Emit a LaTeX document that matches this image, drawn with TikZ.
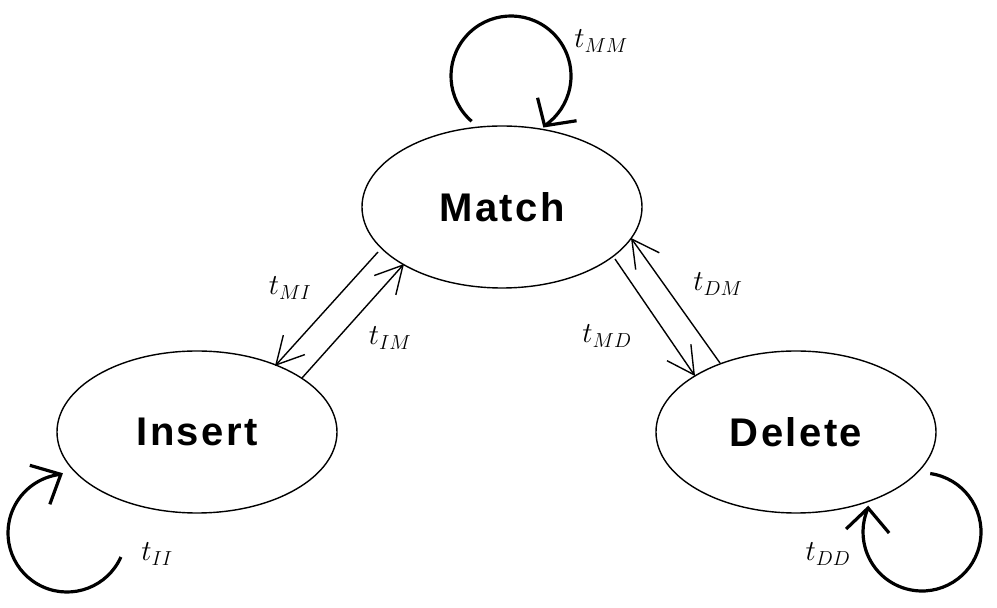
\RequirePackage{fix-cm}
\documentclass[tikz,border=0pt]{standalone}
\usepackage{fontspec}
\newfontfamily\statefont[LetterSpace=6]{Liberation Sans}
\usetikzlibrary{shapes.geometric,arrows.meta}
\begin{document}
\begin{tikzpicture}[x=1pt,y=1pt,
  state/.style={ellipse,draw,line width=1.4pt,minimum width=280pt,minimum height=162pt,inner sep=0pt,
    font=\statefont\bfseries\fontsize{40}{44}\selectfont},
  trans/.style={line width=1.4pt,-{Straight Barb[length=27pt,width=29pt,line width=1.4pt]}},
  selfloop/.style={line width=3.2pt,line cap=butt},
  barb/.style={line width=3.2pt,line join=miter,line cap=butt},
  lab/.style={font=\fontsize{29}{31}\selectfont,inner sep=0pt}]
\useasboundingbox (0,0) rectangle (997,608);
\node[state] (M) at (502,401) {Match};
\node[state] (I) at (197,176) {Insert};
\node[state] (D) at (796,176) {Delete};
% straight transitions
\coordinate (mi1) at (378,356); \coordinate (mi2) at (275,242);
\coordinate (im1) at (302,230); \coordinate (im2) at (404,344);
\coordinate (md1) at (615,349); \coordinate (md2) at (695,232);
\coordinate (dm1) at (720,245); \coordinate (dm2) at (631,370);
\draw[trans] (mi1) -- (mi2);
\draw[trans] (im1) -- (im2);
\draw[trans] (md1) -- (md2);
\draw[trans] (dm1) -- (dm2);
% self loops
\coordinate (mmc) at (511,532);
\coordinate (iic) at (67,75);
\coordinate (ddc) at (922,76);
\draw[selfloop] (mmc) ++(229:60) arc[start angle=229,end angle=-56,radius=60] coordinate (mmend);
\draw[selfloop] (iic) ++(-24:59) arc[start angle=-24,end angle=-264,radius=59] coordinate (iiend);
\draw[selfloop] (ddc) ++(82:59) arc[start angle=82,end angle=-204,radius=59] coordinate (ddend);
\draw[barb] (mmend) ++(-7,28) coordinate (mmb1) -- (mmend) -- ++(32,5) coordinate (mmb2);
\draw[barb] (iiend) ++(-31,9) coordinate (iib1) -- (iiend) -- ++(-11,-30) coordinate (iib2);
\draw[barb] (ddend) ++(-22,-21) coordinate (ddb1) -- (ddend) -- ++(21,-25) coordinate (ddb2);
% labels
\node[lab] (lmm) at (601,567) {$t_{MM}$};
\node[lab] (lmi) at (290,320) {$t_{MI}$};
\node[lab] (lim) at (390,270) {$t_{IM}$};
\node[lab] (lmd) at (607,272) {$t_{MD}$};
\node[lab] (ldm) at (718,324) {$t_{DM}$};
\node[lab] (lii) at (157,54) {$t_{II}$};
\node[lab] (ldd) at (828,54) {$t_{DD}$};
\end{tikzpicture}
\end{document}
